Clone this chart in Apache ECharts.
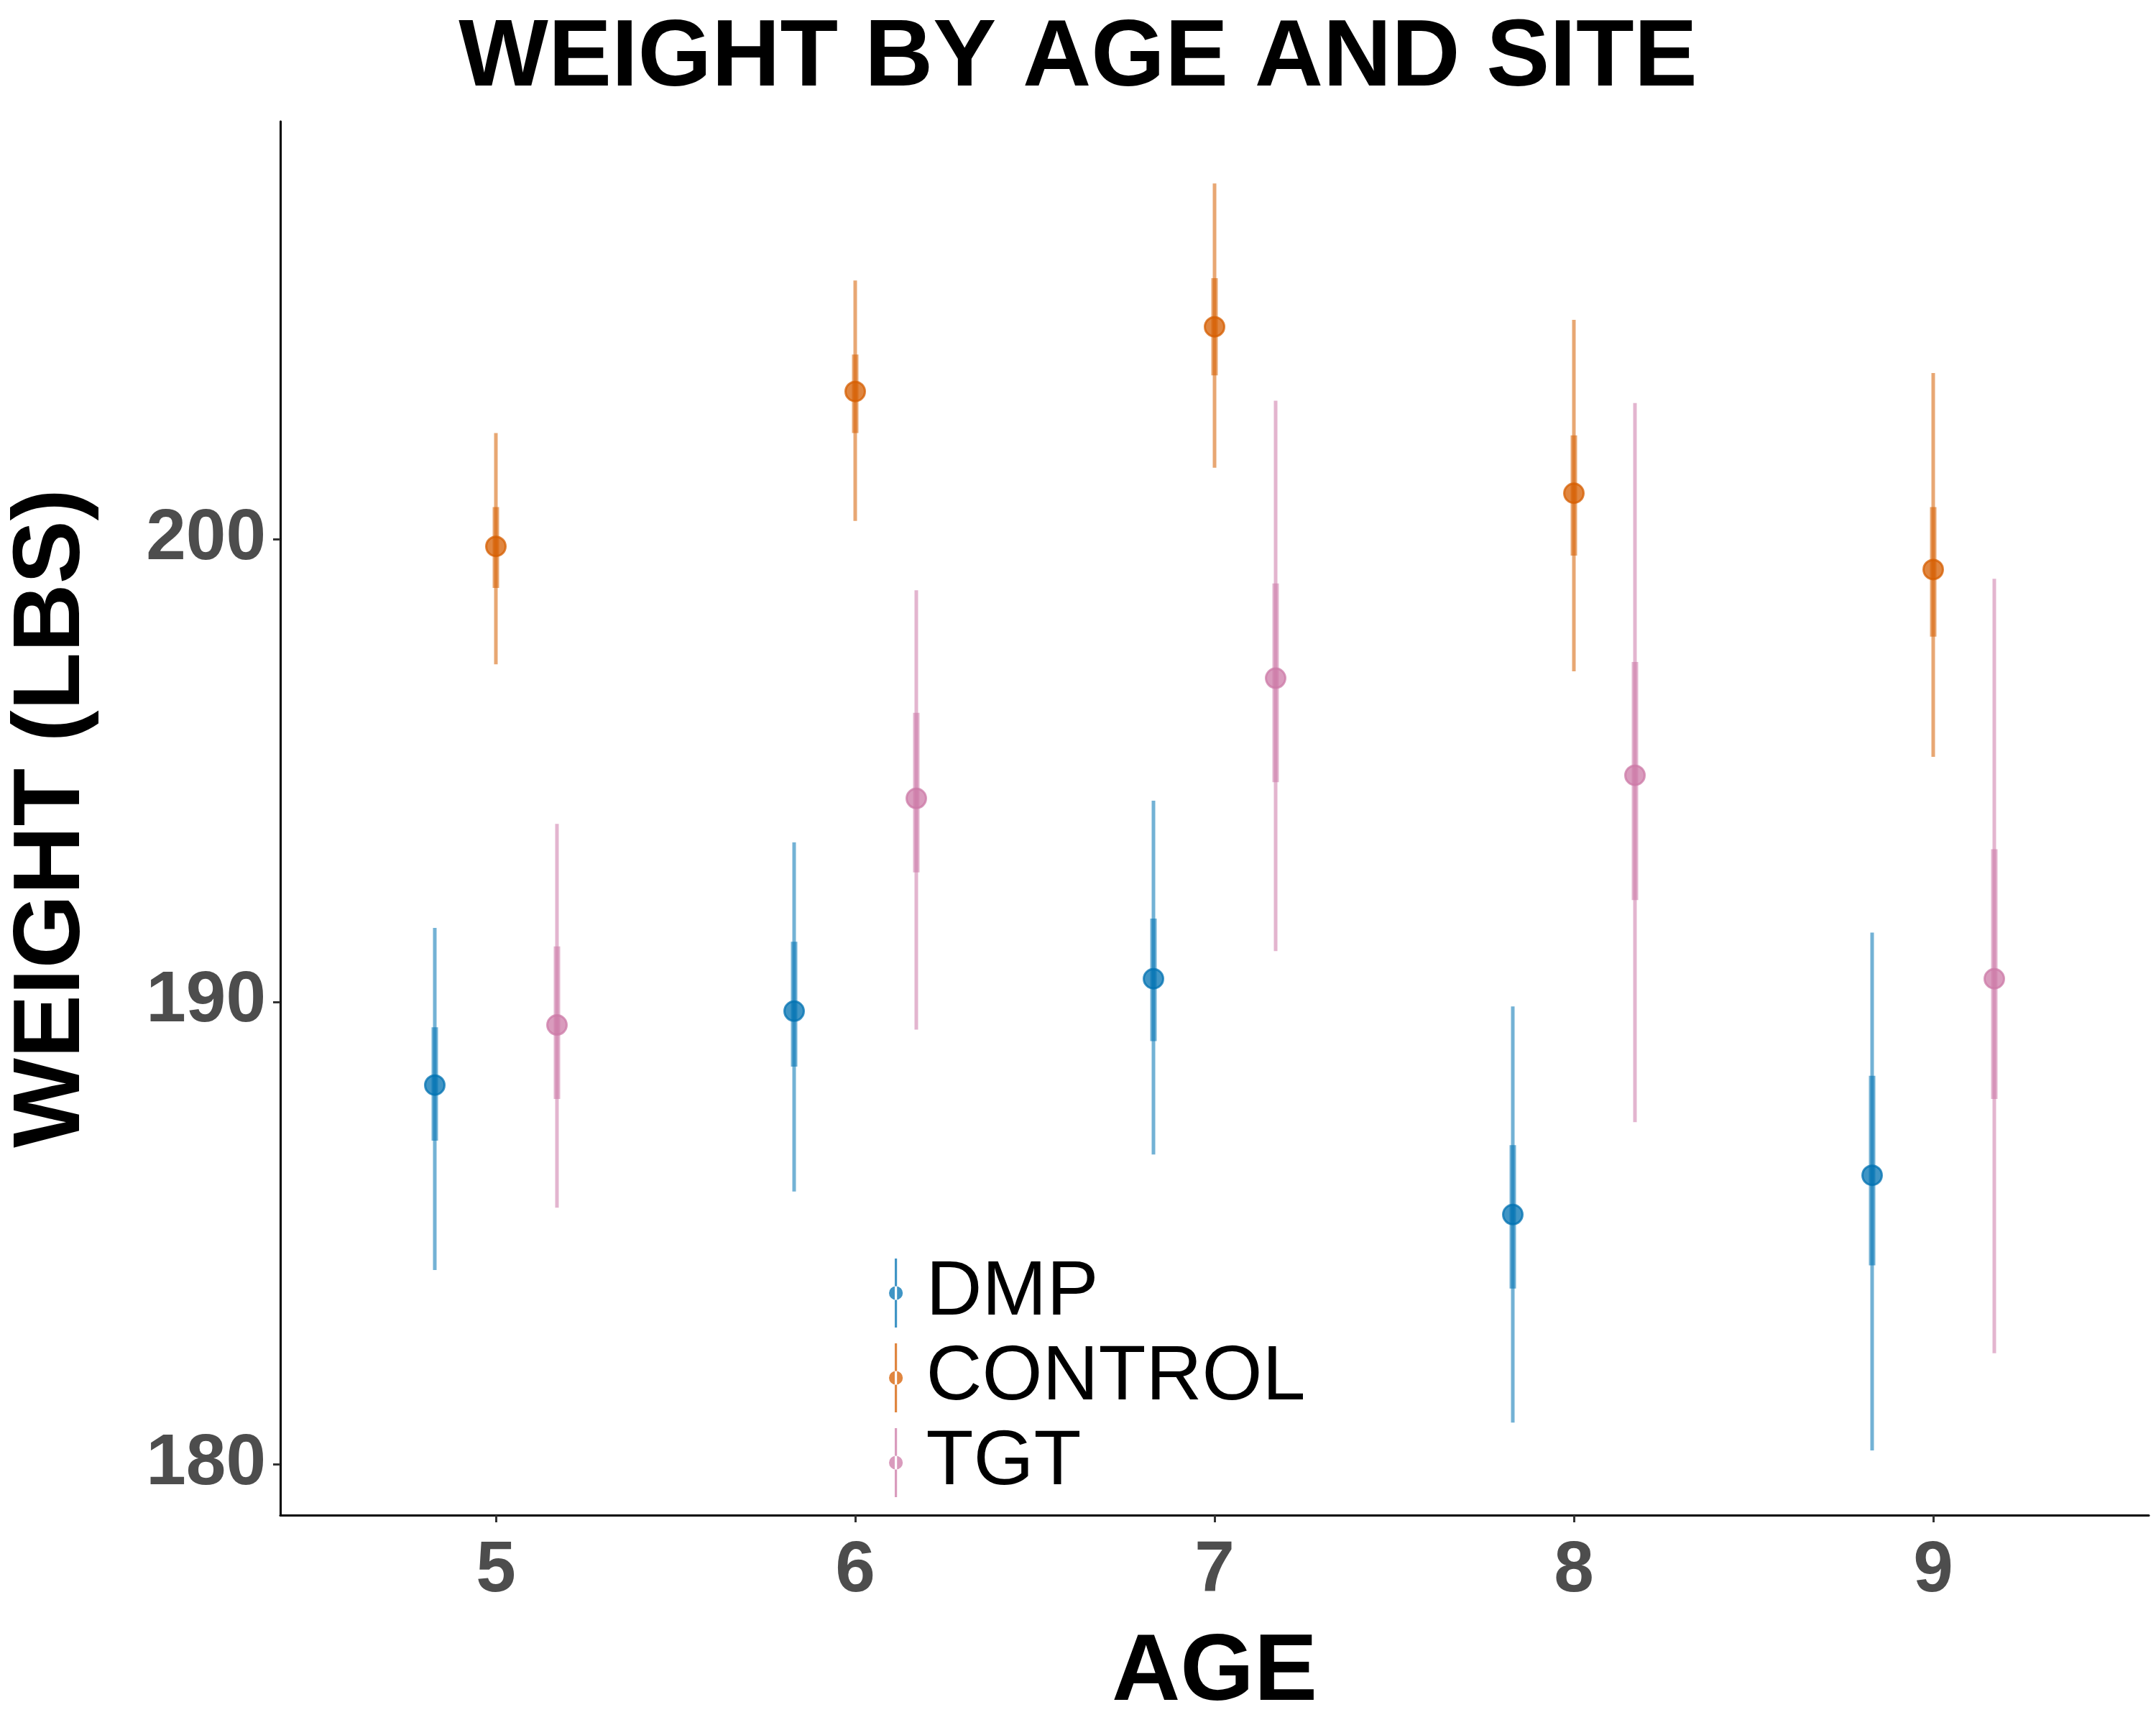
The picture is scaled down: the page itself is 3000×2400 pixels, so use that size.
<!DOCTYPE html>
<html>
<head>
<meta charset="UTF-8">
<title>Weight by age and site</title>
<script src="https://cdn.jsdelivr.net/npm/echarts@6/dist/echarts.min.js"></script>
<style>
  body { margin: 0; background: #fff; }
  #chart { width: 3000px; height: 2400px; }
</style>
</head>
<body>
<div id="chart"></div>
<script>
// ages and group offsets
const ages = [5, 6, 7, 8, 9];
const groups = ['DMP', 'CONTROL', 'TGT'];
const offsets = [-0.17, 0, 0.17];
const colors = ['#0072B2', '#D55E00', '#CC79A7'];

// means
const dmpMean = [188.2, 189.8, 190.5, 185.4, 186.25];
const controlMean = [199.85, 203.2, 204.6, 201.0, 199.35];
const tgtMean = [189.5, 194.4, 197.0, 194.9, 190.5];

// inner (thick) intervals [low, high]
const dmpInner = [[187.0, 189.45], [188.6, 191.3], [189.15, 191.8], [183.8, 186.9], [184.3, 188.4]];
const controlInner = [[198.95, 200.7], [202.3, 204.0], [203.55, 205.65], [199.65, 202.25], [197.9, 200.7]];
const tgtInner = [[187.9, 191.2], [192.8, 196.25], [194.75, 199.05], [192.2, 197.35], [187.9, 193.3]];

// outer (thin) intervals [low, high]
const dmpOuter = [[184.2, 191.6], [185.9, 193.45], [186.7, 194.35], [180.9, 189.9], [180.3, 191.5]];
const controlOuter = [[197.3, 202.3], [200.4, 205.6], [201.55, 207.7], [197.15, 204.75], [195.3, 203.6]];
const tgtOuter = [[185.55, 193.85], [189.4, 198.9], [191.1, 203.0], [187.4, 202.95], [182.4, 199.15]];

const yTicks = [180, 190, 200];

const means = [dmpMean, controlMean, tgtMean];
const inners = [dmpInner, controlInner, tgtInner];
const outers = [dmpOuter, controlOuter, tgtOuter];

const chart = echarts.init(document.getElementById('chart'));

function barSeries(name, color, rows, width) {
  return {
    name: name,
    type: 'custom',
    data: rows,
    itemStyle: { color: color },
    renderItem: function (params, api) {
      const a = api.coord([api.value(0), api.value(1)]);
      const b = api.coord([api.value(0), api.value(2)]);
      return {
        type: 'line',
        shape: { x1: a[0], y1: a[1], x2: b[0], y2: b[1] },
        style: { stroke: color, lineWidth: width, opacity: 0.55 }
      };
    },
    encode: { x: 0, y: [1, 2] },
    z: 2
  };
}

const series = [];
groups.forEach((g, i) => {
  const off = offsets[i];
  series.push(barSeries(g, colors[i], ages.map((a, k) => [a + off, outers[i][k][0], outers[i][k][1]]), 5));
  series.push(barSeries(g, colors[i], ages.map((a, k) => [a + off, inners[i][k][0], inners[i][k][1]]), 9));
  series.push({
    name: g,
    type: 'scatter',
    data: ages.map((a, k) => [a + off, means[i][k]]),
    symbolSize: 27,
    itemStyle: { color: colors[i], opacity: 0.75, borderColor: colors[i], borderWidth: 3 },
    z: 3
  });
});

const icon = 'path://M9,0h2v60h-2z M10,24a6,6 0 1,0 0.001,0z';

chart.setOption({
  animation: false,
  backgroundColor: '#fff',
  title: {
    text: 'WEIGHT BY AGE AND SITE',
    left: 'center',
    top: 12,
    textStyle: { fontFamily: 'Liberation Sans', fontSize: 132, fontWeight: 'bold', color: '#000' }
  },
  legend: {
    orient: 'vertical',
    left: 1232,
    top: 1740,
    itemWidth: 26,
    itemHeight: 96,
    itemGap: 10,
    data: groups.map((g, i) => ({ name: g, icon: icon, itemStyle: { color: colors[i], opacity: 0.75 } })),
    textStyle: { fontFamily: 'Liberation Sans', fontSize: 108, color: '#000', padding: [0, 0, 0, 24] }
  },
  grid: { left: 373, right: 10, top: 169, bottom: 275 },
  xAxis: {
    type: 'value',
    min: 4.4,
    max: 9.6,
    name: 'AGE',
    nameLocation: 'middle',
    nameGap: 155,
    nameTextStyle: { fontFamily: 'Liberation Sans', fontSize: 132, fontWeight: 'bold', color: '#000' },
    axisLine: { lineStyle: { color: '#000', width: 3 } },
    axisTick: { show: true, length: 10, lineStyle: { color: '#333', width: 3 }, customValues: ages },
    axisLabel: {
      fontFamily: 'Liberation Sans', fontSize: 100, fontWeight: 'bold', color: '#4d4d4d', margin: 28,
      customValues: ages
    },
    splitLine: { show: false }
  },
  yAxis: {
    type: 'value',
    min: 178.9,
    max: 209.04,
    name: 'WEIGHT (LBS)',
    nameLocation: 'middle',
    nameGap: 250,
    nameTextStyle: { fontFamily: 'Liberation Sans', fontSize: 132, fontWeight: 'bold', color: '#000' },
    axisLine: { show: true, lineStyle: { color: '#000', width: 3 } },
    axisTick: { show: true, length: 10, lineStyle: { color: '#333', width: 3 }, customValues: yTicks },
    axisLabel: {
      fontFamily: 'Liberation Sans', fontSize: 100, fontWeight: 'bold', color: '#4d4d4d', margin: 20,
      customValues: yTicks
    },
    splitLine: { show: false }
  },
  series: series
});
</script>
</body>
</html>
